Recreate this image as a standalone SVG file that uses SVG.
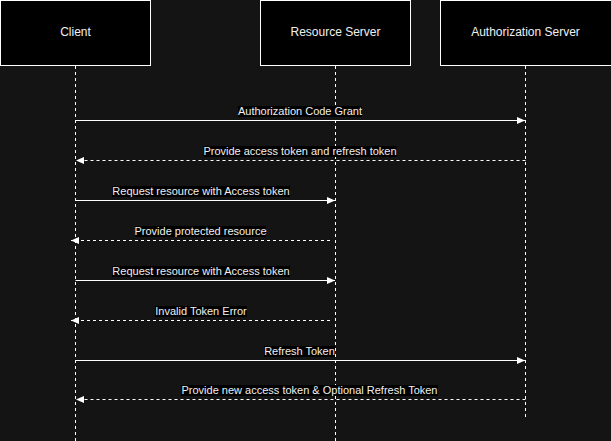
<svg xmlns="http://www.w3.org/2000/svg" width="611" height="441" viewBox="0 0 611 441">
<style>
.bg{fill:#141414}
.box{fill:#000;stroke:#fff;stroke-width:1}
.name{font-family:"Liberation Sans",Arial,sans-serif;font-size:12px;fill:#f0f0f0;text-anchor:middle}
.life{stroke:#fff;stroke-width:1;stroke-dasharray:3 3;fill:none}
.msg{stroke:#fff;stroke-width:1;fill:none}
.ret{stroke:#fff;stroke-width:1;stroke-dasharray:3 3;fill:none}
.lbg{fill:#000}
.lbl{font-family:"Liberation Sans",Arial,sans-serif;font-size:11px;fill:#f0f0f0;text-anchor:middle}
</style>
<defs>
<marker id="ah" markerUnits="userSpaceOnUse" markerWidth="10" markerHeight="10" refX="8" refY="4" orient="auto">
<path d="M0,0.5 L8,4 L0,7.5 Z" fill="#fff"/>
</marker>
</defs>
<rect class="bg" x="0" y="0" width="611" height="441"/>
<g id="node-client">
<rect class="box" x="0.5" y="0.5" width="150" height="65"/>
<text class="name" x="75.5" y="36">Client</text>
</g>
<g id="node-resource-server">
<rect class="box" x="260.5" y="0.5" width="150" height="65"/>
<text class="name" x="335.5" y="36">Resource Server</text>
</g>
<g id="node-authorization-server">
<rect class="box" x="440.5" y="0.5" width="171" height="65"/>
<text class="name" x="525.5" y="36">Authorization Server</text>
</g>
<g id="lifelines">
<line class="life" x1="75.5" y1="66" x2="75.5" y2="441"/>
<line class="life" x1="335.5" y1="66" x2="335.5" y2="441"/>
<line class="life" x1="525.5" y1="66" x2="525.5" y2="420"/>
</g>
<g id="connectors">
<line class="msg" x1="75.5" y1="120.5" x2="525" y2="120.5" marker-end="url(#ah)"/>
<line class="ret" x1="525.5" y1="160.5" x2="76" y2="160.5" marker-end="url(#ah)"/>
<line class="msg" x1="75.5" y1="200.5" x2="335" y2="200.5" marker-end="url(#ah)"/>
<line class="ret" x1="330" y1="240.5" x2="71" y2="240.5" marker-end="url(#ah)"/>
<line class="msg" x1="75.5" y1="280.5" x2="335" y2="280.5" marker-end="url(#ah)"/>
<line class="ret" x1="330" y1="320.5" x2="71" y2="320.5" marker-end="url(#ah)"/>
<line class="msg" x1="75.5" y1="360.5" x2="525" y2="360.5" marker-end="url(#ah)"/>
<line class="ret" x1="525.5" y1="399.5" x2="76" y2="399.5" marker-end="url(#ah)"/>
</g>
<g id="labels">
<rect class="lbg" x="238" y="106" width="124" height="11"/>
<text class="lbl" x="300" y="115">Authorization Code Grant</text>
<rect class="lbg" x="203.5" y="146" width="193" height="11"/>
<text class="lbl" x="300" y="155">Provide access token and refresh token</text>
<rect class="lbg" x="112" y="186" width="178" height="11"/>
<text class="lbl" x="201" y="195">Request resource with Access token</text>
<rect class="lbg" x="135" y="226" width="131" height="11"/>
<text class="lbl" x="200.5" y="235">Provide protected resource</text>
<rect class="lbg" x="112" y="266" width="178" height="11"/>
<text class="lbl" x="201" y="275">Request resource with Access token</text>
<rect class="lbg" x="155" y="306" width="92" height="11"/>
<text class="lbl" x="201" y="315">Invalid Token Error</text>
<rect class="lbg" x="264" y="346" width="71" height="11"/>
<text class="lbl" x="299.5" y="355">Refresh Token</text>
<rect class="lbg" x="181" y="385" width="257" height="11"/>
<text class="lbl" x="309.5" y="394">Provide new access token &amp; Optional Refresh Token</text>
</g>
</svg>
